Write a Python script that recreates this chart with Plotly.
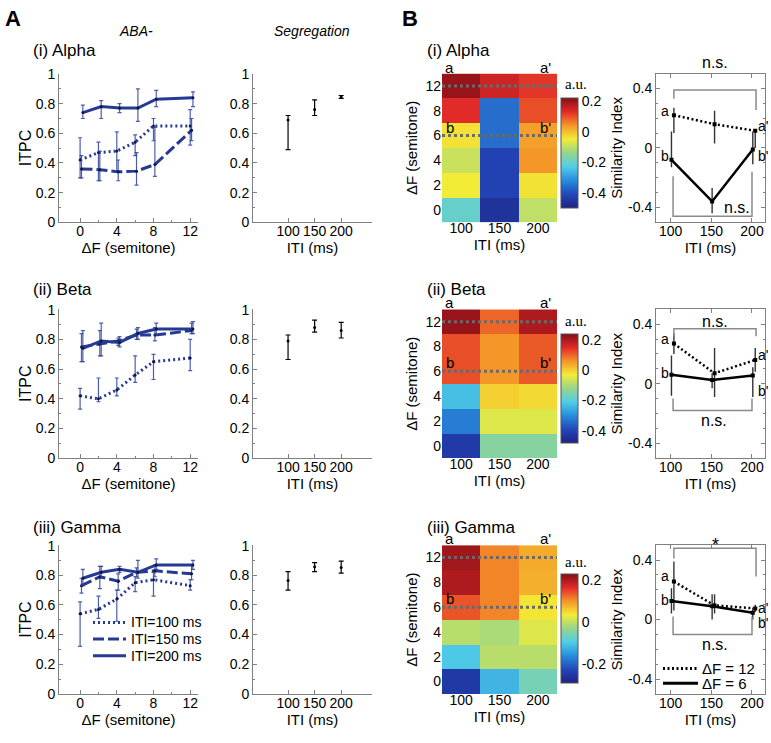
import plotly.graph_objects as go

W, H = 771, 743

# ---------------- DATA ----------------
dF = [0, 2, 4, 6, 8, 12]
iti = [100, 150, 200]

# ITPC (panel A, left) : mean, upper, lower
alpha_100 = [0.42, 0.47, 0.48, 0.54, 0.65, 0.65]
alpha_100_hi = [0.57, 0.54, 0.61, 0.59, 0.70, 0.76]
alpha_100_lo = [0.30, 0.28, 0.34, 0.45, 0.55, 0.52]
alpha_150 = [0.36, 0.355, 0.34, 0.345, 0.39, 0.62]
alpha_150_hi = [0.45, 0.48, 0.42, 0.47, 0.64, 0.70]
alpha_150_lo = [0.30, 0.28, 0.28, 0.25, 0.31, 0.55]
alpha_200 = [0.74, 0.78, 0.77, 0.77, 0.83, 0.84]
alpha_200_hi = [0.79, 0.82, 0.80, 0.90, 0.89, 0.88]
alpha_200_lo = [0.70, 0.70, 0.74, 0.68, 0.78, 0.78]

beta_100 = [0.42, 0.40, 0.46, 0.56, 0.65, 0.675]
beta_100_hi = [0.47, 0.54, 0.54, 0.69, 0.70, 0.80]
beta_100_lo = [0.33, 0.38, 0.42, 0.51, 0.53, 0.59]
beta_150 = [0.75, 0.77, 0.79, 0.83, 0.83, 0.86]
beta_150_hi = [0.84, 0.86, 0.81, 0.87, 0.88, 0.91]
beta_150_lo = [0.65, 0.69, 0.76, 0.80, 0.79, 0.84]
beta_200 = [0.74, 0.79, 0.78, 0.84, 0.87, 0.87]
beta_200_hi = [0.86, 0.91, 0.82, 0.88, 0.91, 0.92]
beta_200_lo = [0.65, 0.69, 0.75, 0.80, 0.83, 0.84]

gamma_100 = [0.54, 0.57, 0.64, 0.75, 0.77, 0.73]
gamma_100_hi = [0.62, 0.66, 0.70, 0.79, 0.82, 0.77]
gamma_100_lo = [0.32, 0.51, 0.49, 0.69, 0.66, 0.70]
gamma_150 = [0.73, 0.79, 0.76, 0.82, 0.83, 0.81]
gamma_150_hi = [0.78, 0.86, 0.81, 0.85, 0.87, 0.87]
gamma_150_lo = [0.68, 0.71, 0.70, 0.79, 0.79, 0.77]
gamma_200 = [0.78, 0.82, 0.84, 0.82, 0.87, 0.87]
gamma_200_hi = [0.84, 0.86, 0.86, 0.90, 0.91, 0.90]
gamma_200_lo = [0.73, 0.78, 0.82, 0.78, 0.84, 0.84]

# Segregation ITPC
seg_alpha = [0.69, 0.76, 0.845]
seg_alpha_hi = [0.72, 0.825, 0.855]
seg_alpha_lo = [0.49, 0.72, 0.835]
seg_beta = [0.79, 0.88, 0.86]
seg_beta_hi = [0.83, 0.93, 0.915]
seg_beta_lo = [0.665, 0.85, 0.81]
seg_gamma = [0.765, 0.858, 0.853]
seg_gamma_hi = [0.825, 0.885, 0.895]
seg_gamma_lo = [0.70, 0.825, 0.815]

# Heatmaps (rows: dF 0,2,4,6,8,12 ; cols: ITI 100,150,200), a.u.
heat_rows = ['0', '2', '4', '6', '8', '12']
heat_alpha = [[-0.20, -0.46, -0.10],
              [-0.05, -0.42, -0.04],
              [-0.09, -0.42, 0.04],
              [-0.04, -0.36, 0.03],
              [0.13, -0.36, 0.10],
              [0.20, 0.15, 0.12]]
heat_beta = [[-0.42, -0.14, -0.14],
             [-0.32, -0.05, -0.05],
             [-0.23, 0.00, -0.01],
             [0.12, 0.06, 0.11],
             [0.12, 0.06, 0.11],
             [0.22, 0.10, 0.20]]
heat_gamma = [[-0.25, -0.12, -0.06],
              [-0.10, -0.005, -0.005],
              [-0.005, -0.015, 0.02],
              [0.14, 0.11, 0.04],
              [0.20, 0.11, 0.08],
              [0.21, 0.11, 0.085]]
heat_ranges = [(-0.50, 0.22), (-0.48, 0.24), (-0.29, 0.23)]
cbar_ticks = [[0.2, 0, -0.2, -0.4], [0.2, 0, -0.2, -0.4], [0.2, 0, -0.2]]

# Similarity index (dF=12 dotted, dF=6 solid)
sim_x12 = [104, 154, 204]
sim_x6 = [101, 151, 201]
sim_alpha_12 = [0.22, 0.16, 0.115]
sim_alpha_12_hi = [0.27, 0.25, 0.12]
sim_alpha_12_lo = [0.10, 0.03, 0.00]
sim_alpha_6 = [-0.08, -0.36, -0.01]
sim_alpha_6_hi = [0.11, -0.27, 0.11]
sim_alpha_6_lo = [-0.13, -0.44, -0.11]
sim_beta_12 = [0.27, 0.07, 0.16]
sim_beta_12_hi = [0.34, 0.24, 0.24]
sim_beta_12_lo = [0.20, -0.09, 0.08]
sim_beta_6 = [0.06, 0.025, 0.055]
sim_beta_6_hi = [0.19, 0.07, 0.11]
sim_beta_6_lo = [-0.08, -0.03, -0.09]
sim_gamma_12 = [0.255, 0.095, 0.075]
sim_gamma_12_hi = [0.39, 0.17, 0.10]
sim_gamma_12_lo = [0.06, 0.04, 0.05]
sim_gamma_6 = [0.125, 0.09, 0.045]
sim_gamma_6_hi = [0.21, 0.17, 0.08]
sim_gamma_6_lo = [0.04, 0.00, 0.00]

# significance brackets (x, y) and labels
brk_top_x = [[104, 104, 205, 205], [104, 104, 205, 205], [104, 104, 205, 205]]
brk_top_y = [[0.33, 0.39, 0.39, 0.255], [0.32, 0.37, 0.37, 0.32], [0.41, 0.48, 0.48, 0.29]]
brk_bot_x = [[103, 103, 200, 200], [103, 103, 200, 200], [103, 103, 200, 200]]
brk_bot_y = [[-0.19, -0.46, -0.46, -0.16], [-0.10, -0.18, -0.18, -0.10], [0.02, -0.10, -0.10, 0.02]]
top_sig = ['n.s.', 'n.s.', '*']
bot_sig = ['n.s.', 'n.s.', 'n.s.']

band_titles = ['(i) Alpha', '(ii) Beta', '(iii) Gamma']
itpc_legend = ['ITI=100 ms', 'ITI=150 ms', 'ITI=200 ms']
sim_legend = ['ΔF = 12', 'ΔF = 6']
itpc_yticks = [0, 0.2, 0.4, 0.6, 0.8, 1]

# ---------------- LAYOUT HELPERS ----------------
def fx(px):
    return px / W

def fy(py):
    return 1 - py / H

rows_px = [(67, 219), (308, 460), (549, 701)]
cols_px = [(59, 198), (253, 372), (442, 557), (656, 765)]
itpc_xrange = [-2.3, 12.85]
seg_xrange = [34, 258]

NAVY = '#263a94'
ERRC = 'rgba(45,65,160,0.85)'
AXC = '#808080'
FONT = 'Liberation Sans, Arial, sans-serif'

fig = go.Figure()
layout = {}
shapes = []


def axn(n):
    return ('x', 'y') if n == 1 else (f'x{n}', f'y{n}')


def keys(n):
    return ('xaxis', 'yaxis') if n == 1 else (f'xaxis{n}', f'yaxis{n}')


itpc = [
    (alpha_100, alpha_100_hi, alpha_100_lo, alpha_150, alpha_150_hi, alpha_150_lo, alpha_200, alpha_200_hi, alpha_200_lo),
    (beta_100, beta_100_hi, beta_100_lo, beta_150, beta_150_hi, beta_150_lo, beta_200, beta_200_hi, beta_200_lo),
    (gamma_100, gamma_100_hi, gamma_100_lo, gamma_150, gamma_150_hi, gamma_150_lo, gamma_200, gamma_200_hi, gamma_200_lo),
]
segs = [(seg_alpha, seg_alpha_hi, seg_alpha_lo), (seg_beta, seg_beta_hi, seg_beta_lo), (seg_gamma, seg_gamma_hi, seg_gamma_lo)]
heats = [heat_alpha, heat_beta, heat_gamma]
sims = [
    (sim_alpha_12, sim_alpha_12_hi, sim_alpha_12_lo, sim_alpha_6, sim_alpha_6_hi, sim_alpha_6_lo),
    (sim_beta_12, sim_beta_12_hi, sim_beta_12_lo, sim_beta_6, sim_beta_6_hi, sim_beta_6_lo),
    (sim_gamma_12, sim_gamma_12_hi, sim_gamma_12_lo, sim_gamma_6, sim_gamma_6_hi, sim_gamma_6_lo),
]

colorscale = [
    [0.0, 'rgb(30,35,130)'],
    [0.125, 'rgb(35,70,185)'],
    [0.25, 'rgb(40,140,220)'],
    [0.375, 'rgb(80,205,232)'],
    [0.5, 'rgb(150,212,140)'],
    [0.625, 'rgb(242,236,55)'],
    [0.75, 'rgb(245,150,40)'],
    [0.875, 'rgb(226,42,40)'],
    [1.0, 'rgb(130,15,22)'],
]

annotations = []


def ann(text, x, y, size=14, xanchor='center', yanchor='middle', xref='paper', yref='paper', **kw):
    d = dict(text=text, x=x, y=y, xref=xref, yref=yref, showarrow=False,
             xanchor=xanchor, yanchor=yanchor, font=dict(size=size, family=kw.pop('family', FONT), color=kw.pop('color', 'black')))
    d.update(kw)
    annotations.append(d)


def err(mean, hi, lo):
    return [h - m for h, m in zip(hi, mean)], [m - l for m, l in zip(mean, lo)]


base_axis = dict(showgrid=False, zeroline=False, showline=True, linecolor=AXC, linewidth=1,
                 ticks='inside', tickcolor=AXC, ticklen=4, tickfont=dict(size=14, family=FONT, color='black'),
                 ticklabeloverflow='allow')
YR = [0, 1.003]

for r in range(3):
    ytop, ybot = rows_px[r]
    ydom = [fy(ybot), fy(ytop)]

    # ---- ITPC vs dF ----
    n = r * 4 + 1
    xa, ya = axn(n)
    kx, ky = keys(n)
    d = itpc[r]
    styles = [('2px,3px', 0.0), ('11px,4px', 0.15), ('solid', 0.3)]
    for i, (dash, off) in enumerate(styles):
        m, hi, lo = d[3 * i], d[3 * i + 1], d[3 * i + 2]
        ep, em = err(m, hi, lo)
        fig.add_trace(go.Scatter(
            x=[v + off for v in dF], y=m, xaxis=xa, yaxis=ya, mode='lines+markers',
            line=dict(color=NAVY, width=3, dash=dash), marker=dict(size=3, color='#101840'),
            error_y=dict(type='data', array=ep, arrayminus=em, color=ERRC, thickness=1.2, width=2),
            name=itpc_legend[i], showlegend=False, hoverinfo='skip'))
    layout[kx] = dict(base_axis, domain=[fx(cols_px[0][0]), fx(cols_px[0][1])], anchor=ya,
                      range=itpc_xrange, tickvals=[0, 4, 8, 12], ticklabelstandoff=-4,
                      minor=dict(tickvals=[2, 6, 10], ticklen=2, ticks='inside', tickcolor=AXC),
                      title=dict(text='ΔF (semitone)', font=dict(size=15, family=FONT), standoff=0))
    layout[ky] = dict(base_axis, domain=ydom, anchor=xa, range=YR,
                      tickvals=itpc_yticks, ticktext=['%g' % v for v in itpc_yticks],
                      minor=dict(dtick=0.1, ticklen=2, ticks='inside', tickcolor=AXC),
                      title=dict(text='ITPC', font=dict(size=16, family=FONT), standoff=0))

    # ---- Segregation ----
    n = r * 4 + 2
    xa, ya = axn(n)
    kx, ky = keys(n)
    m, hi, lo = segs[r]
    ep, em = err(m, hi, lo)
    fig.add_trace(go.Scatter(x=iti, y=m, xaxis=xa, yaxis=ya, mode='markers',
                             marker=dict(size=3, color='black'),
                             error_y=dict(type='data', array=ep, arrayminus=em, color='black', thickness=1.2, width=2.5),
                             showlegend=False, hoverinfo='skip'))
    layout[kx] = dict(base_axis, domain=[fx(cols_px[1][0]), fx(cols_px[1][1])], anchor=ya,
                      range=seg_xrange, tickvals=iti, ticklabelstandoff=-4,
                      title=dict(text='ITI (ms)', font=dict(size=15, family=FONT), standoff=0))
    layout[ky] = dict(base_axis, domain=ydom, anchor=xa, range=YR,
                      tickvals=itpc_yticks, ticktext=['%g' % v for v in itpc_yticks],
                      minor=dict(dtick=0.1, ticklen=2, ticks='inside', tickcolor=AXC))

    # ---- Heatmap ----
    n = r * 4 + 3
    xa, ya = axn(n)
    kx, ky = keys(n)
    zmin, zmax = heat_ranges[r]
    cb_top, cb_bot = [(92, 202), (333, 442), (578, 687)][r]
    fig.add_trace(go.Heatmap(
        z=heats[r], x=[0, 1, 2], y=list(range(6)), xaxis=xa, yaxis=ya,
        zmin=zmin, zmax=zmax, colorscale=colorscale, zsmooth=False, hoverinfo='skip',
        colorbar=dict(x=fx(561), xanchor='left', y=fy(cb_top), yanchor='top',
                      len=cb_bot - cb_top, lenmode='pixels', thickness=17, thicknessmode='pixels',
                      outlinewidth=1, outlinecolor='#555', ticks='', tickvals=cbar_ticks[r],
                      ticktext=[('%g' % v) for v in cbar_ticks[r]],
                      tickfont=dict(size=14, family=FONT), ypad=0, xpad=0)))
    # dotted reference lines at dF=12 and dF=6
    for yi in (heat_rows.index('12'), heat_rows.index('6')):
        fig.add_trace(go.Scatter(x=[-0.5, 2.5], y=[yi, yi], xaxis=xa, yaxis=ya, mode='lines',
                                 line=dict(color='#6a6a6a', width=3, dash='3px,3px'),
                                 showlegend=False, hoverinfo='skip'))
    layout[kx] = dict(domain=[fx(cols_px[2][0]), fx(cols_px[2][1])], anchor=ya, range=[-0.5, 2.5],
                      tickvals=[0, 1, 2], ticktext=[str(v) for v in iti], showgrid=False, zeroline=False,
                      ticks='', tickfont=dict(size=14, family=FONT), ticklabelstandoff=-4,
                      title=dict(text='ITI (ms)', font=dict(size=15, family=FONT), standoff=0))
    layout[ky] = dict(domain=ydom, anchor=xa, range=[-0.5, 5.5], tickvals=list(range(6)), ticktext=heat_rows,
                      showgrid=False, zeroline=False, ticks='', tickfont=dict(size=14, family=FONT),
                      title=dict(text='ΔF (semitone)', font=dict(size=15, family=FONT), standoff=4))
    ann('a', -0.3, 5.5, size=15, xref=xa, yref=ya, yanchor='bottom', yshift=-4)
    ann("a'", 2.2, 5.5, size=15, xref=xa, yref=ya, yanchor='bottom', yshift=-4)
    ann('b', -0.3, 3, size=15, xref=xa, yref=ya, yanchor='bottom', yshift=-2)
    ann("b'", 2.2, 3, size=15, xref=xa, yref=ya, yanchor='bottom', yshift=-2)
    ann('a.u.', fx(576), fy([78, 320, 566][r]), size=15, family='Liberation Serif, Times New Roman, serif')

    # ---- Similarity ----
    n = r * 4 + 4
    xa, ya = axn(n)
    kx, ky = keys(n)
    s = sims[r]
    for (xs, m, hi, lo, dash, lab) in [(sim_x12, s[0], s[1], s[2], '2px,2.5px', sim_legend[0]),
                                        (sim_x6, s[3], s[4], s[5], 'solid', sim_legend[1])]:
        ep, em = err(m, hi, lo)
        fig.add_trace(go.Scatter(x=xs, y=m, xaxis=xa, yaxis=ya, mode='lines+markers',
                                 line=dict(color='black', width=2.5, dash=dash),
                                 marker=dict(size=4, color='black', symbol='square'),
                                 error_y=dict(type='data', array=ep, arrayminus=em, color='#333', thickness=1.4, width=0),
                                 name=lab, showlegend=False, hoverinfo='skip'))
    for bx, by in [(brk_top_x[r], brk_top_y[r]), (brk_bot_x[r], brk_bot_y[r])]:
        fig.add_trace(go.Scatter(x=bx, y=by, xaxis=xa, yaxis=ya, mode='lines',
                                 line=dict(color='#8a8a8a', width=1.5), showlegend=False, hoverinfo='skip'))
    layout[kx] = dict(base_axis, domain=[fx(cols_px[3][0]), fx(cols_px[3][1])], anchor=ya,
                      range=[82, 216], tickvals=iti, mirror='ticks', ticklabelstandoff=-4,
                      title=dict(text='ITI (ms)', font=dict(size=15, family=FONT), standoff=0))
    layout[ky] = dict(base_axis, domain=ydom, anchor=xa, range=[-0.5, 0.5], mirror='ticks',
                      tickvals=[-0.4, 0, 0.4], ticktext=['-0.4', '0', '0.4'],
                      minor=dict(dtick=0.1, ticklen=2, ticks='inside', tickcolor=AXC),
                      title=dict(text='Similarity Index', font=dict(size=15, family=FONT), standoff=1))
    top_py = [56, 320, 549][r]
    bot_pos = [(181, -0.40), (153, -0.25), (155, -0.165)][r]
    ann(top_sig[r], 155, fy(top_py), size=16 if top_sig[r] == 'n.s.' else 18, xref=xa, yref='paper')
    ann(bot_sig[r], bot_pos[0], bot_pos[1], size=16, xref=xa, yref=ya)
    lab_pos = [
        [(0.245, 'a'), (-0.055, 'b'), (0.15, "a'"), (-0.055, "b'")],
        [(0.30, 'a'), (0.07, 'b'), (0.195, "a'"), (-0.05, "b'")],
        [(0.29, 'a'), (0.13, 'b'), (0.075, "a'"), (-0.02, "b'")],
    ][r]
    for j, (yy, t) in enumerate(lab_pos):
        if j < 2:
            ann(t, 100, yy, size=14, xref=xa, yref=ya, xanchor='right')
        else:
            ann(t, 205, yy, size=14, xref=xa, yref=ya, xanchor='left')

    # panel titles
    ann(band_titles[r], fx(31), fy([43, 288, 531][r]), size=17, xanchor='left')
    ann(band_titles[r], fx(425), fy([43, 288, 531][r]), size=17, xanchor='left')

# legends drawn as key samples + labels
for i, dash in enumerate(['2px,3px', '11px,4px', 'solid']):
    py = 628 + 17 * i
    shapes.append(dict(type='line', xref='paper', yref='paper', x0=fx(93), x1=fx(126), y0=fy(py), y1=fy(py),
                       line=dict(color=NAVY, width=3, dash=dash)))
    ann(itpc_legend[i], fx(129), fy(py), size=14, xanchor='left')
for i, dash in enumerate(['2px,2.5px', 'solid']):
    py = 675 + 15 * i
    shapes.append(dict(type='line', xref='paper', yref='paper', x0=fx(663), x1=fx(698), y0=fy(py), y1=fy(py),
                       line=dict(color='black', width=3, dash=dash)))
    ann(sim_legend[i], fx(700), fy(py), size=15, xanchor='left')

ann('<b>A</b>', fx(3), fy(11), size=22, xanchor='left')
ann('<b>B</b>', fx(400), fy(11), size=22, xanchor='left')
ann('<i>ABA-</i>', fx(136), fy(24), size=14)
ann('<i>Segregation</i>', fx(312), fy(23), size=14)

layout.update(dict(
    width=W, height=H, margin=dict(l=0, r=0, t=0, b=0),
    paper_bgcolor='white', plot_bgcolor='white',
    font=dict(family=FONT, size=14, color='black'),
    annotations=annotations, shapes=shapes, showlegend=False,
))
fig.update_layout(layout)
fig.write_html('out.html', config={'displayModeBar': False},
               post_script="document.body.style.margin='0px';document.body.style.overflow='hidden';")
